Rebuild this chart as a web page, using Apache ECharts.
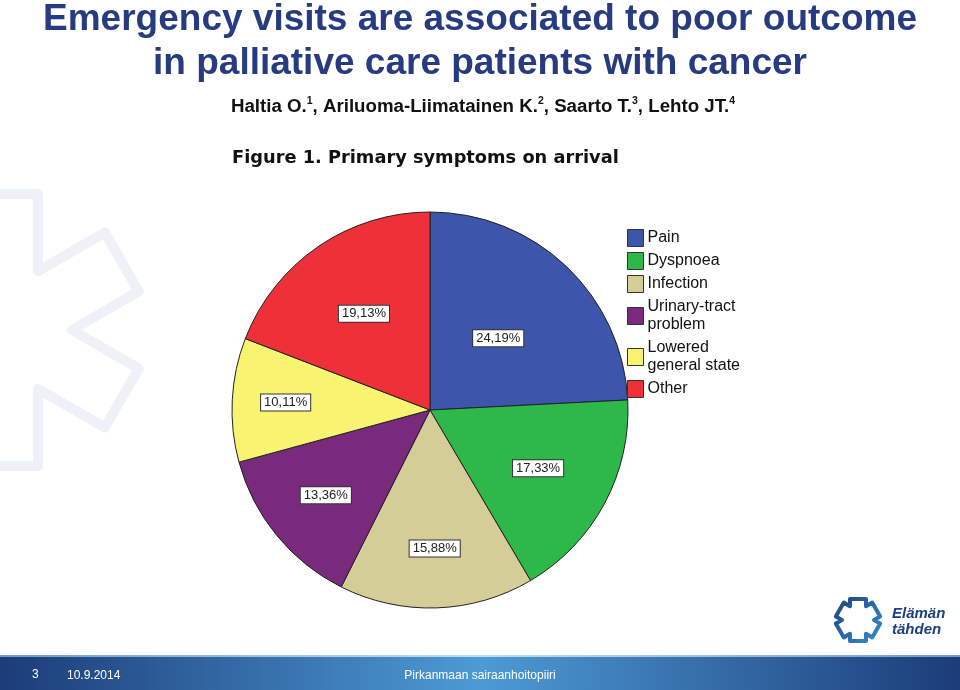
<!DOCTYPE html>
<html>
<head>
<meta charset="utf-8">
<script src="https://cdn.jsdelivr.net/npm/echarts@6/dist/echarts.min.js"></script>
<style>
html,body{margin:0;padding:0;background:#fff;}
#main{width:960px;height:690px;}
</style>
</head>
<body>
<div id="main"></div>
<script>
// ---- data ----
var categories = ['Pain', 'Dyspnoea', 'Infection', 'Urinary-tract problem', 'Lowered general state', 'Other'];
var legendLabels = ['Pain', 'Dyspnoea', 'Infection', 'Urinary-tract\nproblem', 'Lowered\ngeneral state', 'Other'];
var percents = [24.19, 17.33, 15.88, 13.36, 10.11, 19.13];

// ---- style ----
var colors = ['#3d56ab', '#2fb84a', '#d5cd98', '#7a2a7c', '#f8f471', '#ee3139'];
var labelRadius = [0.50, 0.62, 0.70, 0.68, 0.73, 0.59]; // fraction of pie radius where each boxed label sits
var PIE_CX = 430, PIE_CY = 410, PIE_R = 198;

var titleText = 'Emergency visits are associated to poor outcome\nin palliative care patients with cancer';
var figureTitle = 'Figure 1. Primary symptoms on arrival';
var footerPage = '3';
var footerDate = '10.9.2014';
var footerOrg = 'Pirkanmaan sairaanhoitopiiri';

function starPoints(cx, cy, L, w) {
  var pts = [];
  for (var i = 0; i < 6; i++) {
    var a = (90 - 60 * i) * Math.PI / 180;
    var dx = Math.cos(a), dy = -Math.sin(a);
    pts.push([cx + L * dx - w * Math.sin(a), cy + L * dy - w * Math.cos(a)]);
    pts.push([cx + L * dx + w * Math.sin(a), cy + L * dy + w * Math.cos(a)]);
    var b = a - Math.PI / 6;
    pts.push([cx + 2 * w * Math.cos(b), cy - 2 * w * Math.sin(b)]);
  }
  return pts;
}

// mid angle (clockwise from 12 o'clock) of each slice, derived from the data
var total = percents.reduce(function (s, v) { return s + v; }, 0);
var midAngles = [];
(function () {
  var acc = 0;
  percents.forEach(function (v) {
    midAngles.push((acc + v / 2) / total * 2 * Math.PI);
    acc += v;
  });
})();

var chart = echarts.init(document.getElementById('main'), null, {renderer: 'canvas'});
var data = categories.map(function (c, i) {
  return {name: c, value: percents[i], itemStyle: {color: colors[i]}};
});

chart.setOption({
  backgroundColor: '#ffffff',
  animation: false,
  title: [
    {
      text: titleText, left: 480, top: -2, textAlign: 'center', padding: 0,
      textStyle: {fontFamily: 'Liberation Sans, Arial, sans-serif', fontSize: 37, fontWeight: 'bold', color: '#263b80', lineHeight: 44}
    },
    {
      text: '{a|Haltia O.}{s|1}{a|, Ariluoma-Liimatainen K.}{s|2}{a|, Saarto T.}{s|3}{a|, Lehto JT.}{s|4}',
      left: 483, top: 96, textAlign: 'center', padding: 0,
      textStyle: {
        rich: {
          a: {fontFamily: 'Liberation Sans, Arial, sans-serif', fontSize: 18.7, fontWeight: 'bold', color: '#111', lineHeight: 21},
          s: {fontFamily: 'Liberation Sans, Arial, sans-serif', fontSize: 10.5, fontWeight: 'bold', color: '#111', lineHeight: 21, verticalAlign: 'top', padding: [0, 0, 8, 0]}
        }
      }
    },
    {
      text: figureTitle, left: 232, top: 149, padding: 0,
      textStyle: {fontFamily: 'DejaVu Sans, sans-serif', fontSize: 17.8, fontWeight: 'bold', color: '#111'}
    }
  ],
  legend: {
    orient: 'vertical', left: 627, top: 229, padding: 0,
    itemWidth: 16, itemHeight: 17, itemGap: 5,
    icon: 'rect',
    data: categories,
    formatter: function (n) { return legendLabels[categories.indexOf(n)]; },
    textStyle: {fontFamily: 'Liberation Sans, Arial, sans-serif', fontSize: 16, color: '#111', lineHeight: 18, padding: [0, 0, 0, -1]},
    itemStyle: {borderColor: '#333', borderWidth: 1}
  },
  graphic: [
    {type: 'polygon', z: -10, shape: {points: starPoints(4, 330, 136, 34)},
     style: {fill: 'none', stroke: '#eef1f7', lineWidth: 10, lineJoin: 'round'}},
    {type: 'rect', z: 10, shape: {x: 0, y: 655, width: 960, height: 35},
     style: {fill: new echarts.graphic.LinearGradient(0, 0, 1, 0, [
       {offset: 0, color: '#1c3c78'}, {offset: 0.5, color: '#4d9ad5'}, {offset: 1, color: '#1c3c78'}])}},
    {type: 'rect', z: 11, shape: {x: 0, y: 655, width: 960, height: 2},
     style: {fill: new echarts.graphic.LinearGradient(0, 0, 1, 0, [
       {offset: 0, color: '#6f9ccc'}, {offset: 0.5, color: '#bfe0f4'}, {offset: 1, color: '#6f9ccc'}])}},
    {type: 'text', z: 12, style: {text: footerPage, x: 32, y: 675, fill: '#fff', font: '12px Liberation Sans, Arial', textVerticalAlign: 'middle'}},
    {type: 'text', z: 12, style: {text: footerDate, x: 67, y: 676, fill: '#fff', font: '12px Liberation Sans, Arial', textVerticalAlign: 'middle'}},
    {type: 'text', z: 12, style: {text: footerOrg, x: 480, y: 676, fill: '#fff', font: '12px Liberation Sans, Arial', textAlign: 'center', textVerticalAlign: 'middle'}},
    {type: 'polygon', z: 12, shape: {points: starPoints(858, 620, 21, 8)},
     style: {fill: 'none', stroke: new echarts.graphic.LinearGradient(0, 0, 1, 1, [
       {offset: 0, color: '#1d3f80'}, {offset: 1, color: '#3a8fd0'}]), lineWidth: 4, lineJoin: 'round'}},
    {type: 'text', z: 12, style: {text: 'Elämän', x: 892, y: 614, fill: '#1e3f80', font: 'italic 600 15px Liberation Sans, Arial', textVerticalAlign: 'middle'}},
    {type: 'text', z: 12, style: {text: 'tähden', x: 892, y: 630, fill: '#1e3f80', font: 'italic 600 15px Liberation Sans, Arial', textVerticalAlign: 'middle'}}
  ],
  series: [{
    type: 'pie',
    center: [PIE_CX, PIE_CY],
    radius: PIE_R,
    startAngle: 90,
    clockwise: true,
    silent: true,
    data: data,
    itemStyle: {borderColor: '#222', borderWidth: 1},
    label: {
      show: true, position: 'inside',
      formatter: function (p) { return p.value.toFixed(2).replace('.', ',') + '%'; },
      fontFamily: 'Liberation Sans, Arial, sans-serif', fontSize: 13, color: '#222',
      backgroundColor: '#fff', borderColor: '#333', borderWidth: 1, padding: [2, 3, 1, 3]
    },
    labelLayout: function (params) {
      var i = params.dataIndex;
      var r = PIE_R * labelRadius[i];
      return {
        x: PIE_CX + r * Math.sin(midAngles[i]),
        y: PIE_CY - r * Math.cos(midAngles[i]),
        align: 'center', verticalAlign: 'middle'
      };
    },
    labelLine: {show: false}
  }]
});
</script>
</body>
</html>
